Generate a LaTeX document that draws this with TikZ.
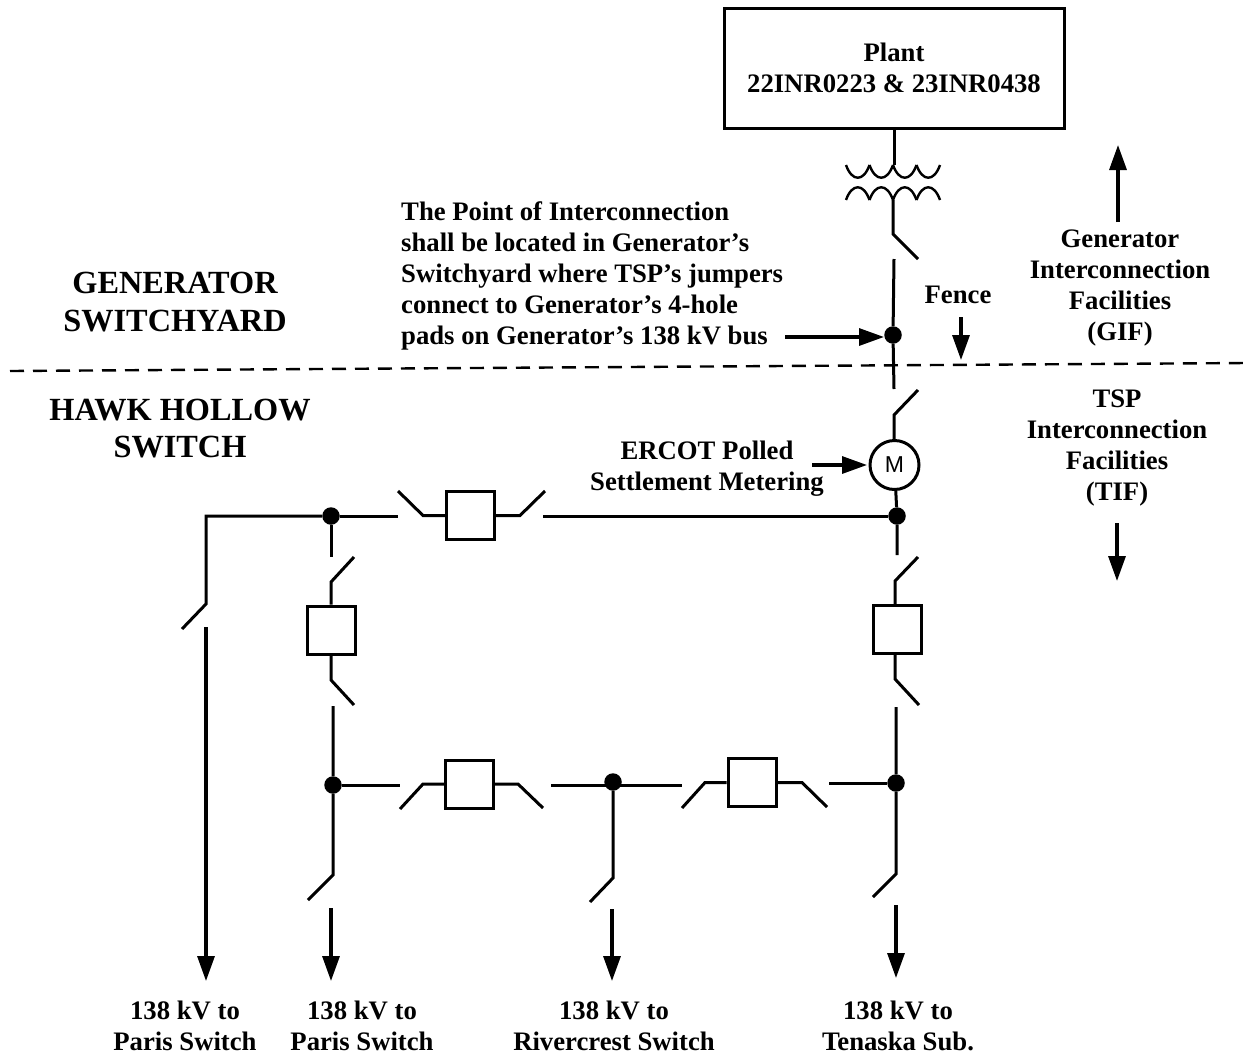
\documentclass[tikz,border=0pt]{standalone}
\usepackage{fontspec}
\setmainfont{Liberation Serif}
\setsansfont{Liberation Sans}
\usetikzlibrary{arrows.meta}
\tikzset{
  lbl/.style={font=\bfseries\fontsize{26.7}{31}\selectfont,align=center,inner sep=0pt},
  bigl/.style={font=\bfseries\fontsize{32.3}{37.5}\selectfont,align=center,inner sep=0pt},
  brk/.style={draw,line width=3pt,minimum size=48pt,inner sep=0pt,fill=white},
  junc/.style={circle,fill=black,minimum size=17.5pt,inner sep=0pt},
  ln/.style={line width=3pt},
  arr/.style={line width=3.2pt,-{Triangle[length=25pt,width=17pt]}}
}
\begin{document}
\begin{tikzpicture}[x=1pt,y=-1pt]
\useasboundingbox (0,0) rectangle (1247,1055);
%%%PLANT AND TRANSFORMER
\node[lbl,draw,line width=3pt,minimum width=340pt,minimum height=120pt] (plant) at (894,68) {Plant\\22INR0223 \& 23INR0438};
\coordinate (xfTop) at (894,165);
\coordinate (xfBot) at (893,200);
\foreach \x in {846,869.5,893,916.5}{
  \draw[ln,line width=2.4pt] (\x,165) .. controls (\x+6,182) and (\x+17.5,182) .. (\x+23.5,165);
  \draw[ln,line width=2.4pt] (\x,200) .. controls (\x+6,183) and (\x+17.5,183) .. (\x+23.5,200);
}
\draw[ln] (plant.south) -- (xfTop);
\draw[ln] (xfBot) -- (893,234) -- (918,259);
%%%POINT OF INTERCONNECTION
\node[junc] (poi) at (893,335) {};
\draw[ln] (894,259) -- (poi) -- (894,389);
\node[lbl,align=left,anchor=north west] (poiText) at (401,201) {The Point of Interconnection\\shall be located in Generator's\\Switchyard where TSP's jumpers\\connect to Generator's 4-hole\\pads on Generator's 138 kV bus};
\coordinate (poiArr) at (785,337);
\draw[arr] (poiArr) -- (884,337);
%%%FENCE
\draw[line width=2.4pt,dash pattern=on 14pt off 9pt] (10,371) -- (1247,363);
\node[lbl] (fence) at (958,295) {Fence};
\coordinate (fenceArr) at (961,317);
\draw[arr] (fenceArr) -- (961,360);
%%%METER
\draw[ln] (918,390) -- (894,415) -- (894,441);
\node[circle,draw,line width=3pt,minimum size=49pt,inner sep=0pt,font=\sffamily\fontsize{23}{23}\selectfont] (meter) at (894.5,465) {M};
\node[junc] (juncE) at (897,516) {};
\draw[ln] (meter) -- (juncE) -- (897,555);
\node[lbl] (meterText) at (707,469) {ERCOT Polled\\Settlement Metering};
\coordinate (meterArr) at (812,465);
\draw[arr] (meterArr) -- (867,465);
%%%TOP BREAKER
\node[junc] (juncA) at (331,516) {};
\node[brk] (brkTop) at (470.5,515.5) {};
\draw[ln] (juncA) -- (398,516);
\draw[ln] (398,491) -- (423,515.5) -- (brkTop.west);
\draw[ln] (brkTop.east) -- (520,515.5) -- (545,491);
\draw[ln] (543,516) -- (juncE);
%%%LEFT FEEDER
\coordinate (feedA) at (206,627);
\draw[ln] (juncA) -- (206,516) -- (206,604) -- (182,629);
\draw[arr] (feedA) -- (206,981);
%%%LEFT COLUMN
\node[brk] (brkL) at (331,630) {};
\node[junc] (juncB) at (333,785) {};
\draw[ln] (juncA) -- (331,557);
\draw[ln] (354,557) -- (331,582) -- (brkL.north);
\draw[ln] (brkL.south) -- (331,680) -- (354,705);
\draw[ln] (333,706) -- (juncB) -- (333,875) -- (308,900);
\coordinate (feedB) at (331,908);
\draw[arr] (feedB) -- (331,981);
%%%RIGHT COLUMN
\node[brk] (brkR) at (897,629) {};
\node[junc] (juncD) at (896,783) {};
\draw[ln] (918,557) -- (895,581) -- (895,605);
\draw[ln] (895,653) -- (895,679) -- (919,705);
\draw[ln] (896,707) -- (juncD) -- (896,874) -- (873,897);
\coordinate (feedD) at (896,905);
\draw[arr] (feedD) -- (896,978);
%%%LOWER ROW
\node[brk] (brkM) at (469.5,784) {};
\node[brk] (brkN) at (752,782.5) {};
\node[junc] (juncC) at (613,782) {};
\draw[ln] (juncB) -- (400,785);
\draw[ln] (400,809) -- (423,784) -- (brkM.west);
\draw[ln] (brkM.east) -- (518,784) -- (543,808);
\draw[ln] (551,785) -- (682,785);
\draw[ln] (682,808) -- (705,782.5) -- (brkN.west);
\draw[ln] (brkN.east) -- (802,782.5) -- (827,807);
\draw[ln] (829,783) -- (juncD);
\draw[ln] (juncC) -- (613,878) -- (590,902);
\coordinate (feedC) at (612,909);
\draw[arr] (feedC) -- (612,981);
%%%FEEDER LABELS
\node[lbl] (toA) at (185,1026) {138 kV to\\Paris Switch};
\node[lbl] (toB) at (362,1026) {138 kV to\\Paris Switch};
\node[lbl] (toC) at (614,1026) {138 kV to\\Rivercrest Switch};
\node[lbl] (toD) at (898,1026) {138 kV to\\Tenaska Sub.};
%%%AREA LABELS
\node[bigl] (genYard) at (175,302) {GENERATOR\\SWITCHYARD};
\node[bigl] (hawk) at (180,428.5) {HAWK HOLLOW\\SWITCH};
%%%FACILITIES
\node[lbl] (gif) at (1120,288) {Generator\\Interconnection\\Facilities\\(GIF)};
\node[lbl] (tif) at (1117,448) {TSP\\Interconnection\\Facilities\\(TIF)};
\coordinate (gifArr) at (1118,222);
\coordinate (tifArr) at (1117,523);
\draw[arr] (gifArr) -- (1118,145);
\draw[arr] (tifArr) -- (1117,581);
\end{tikzpicture}
\end{document}
